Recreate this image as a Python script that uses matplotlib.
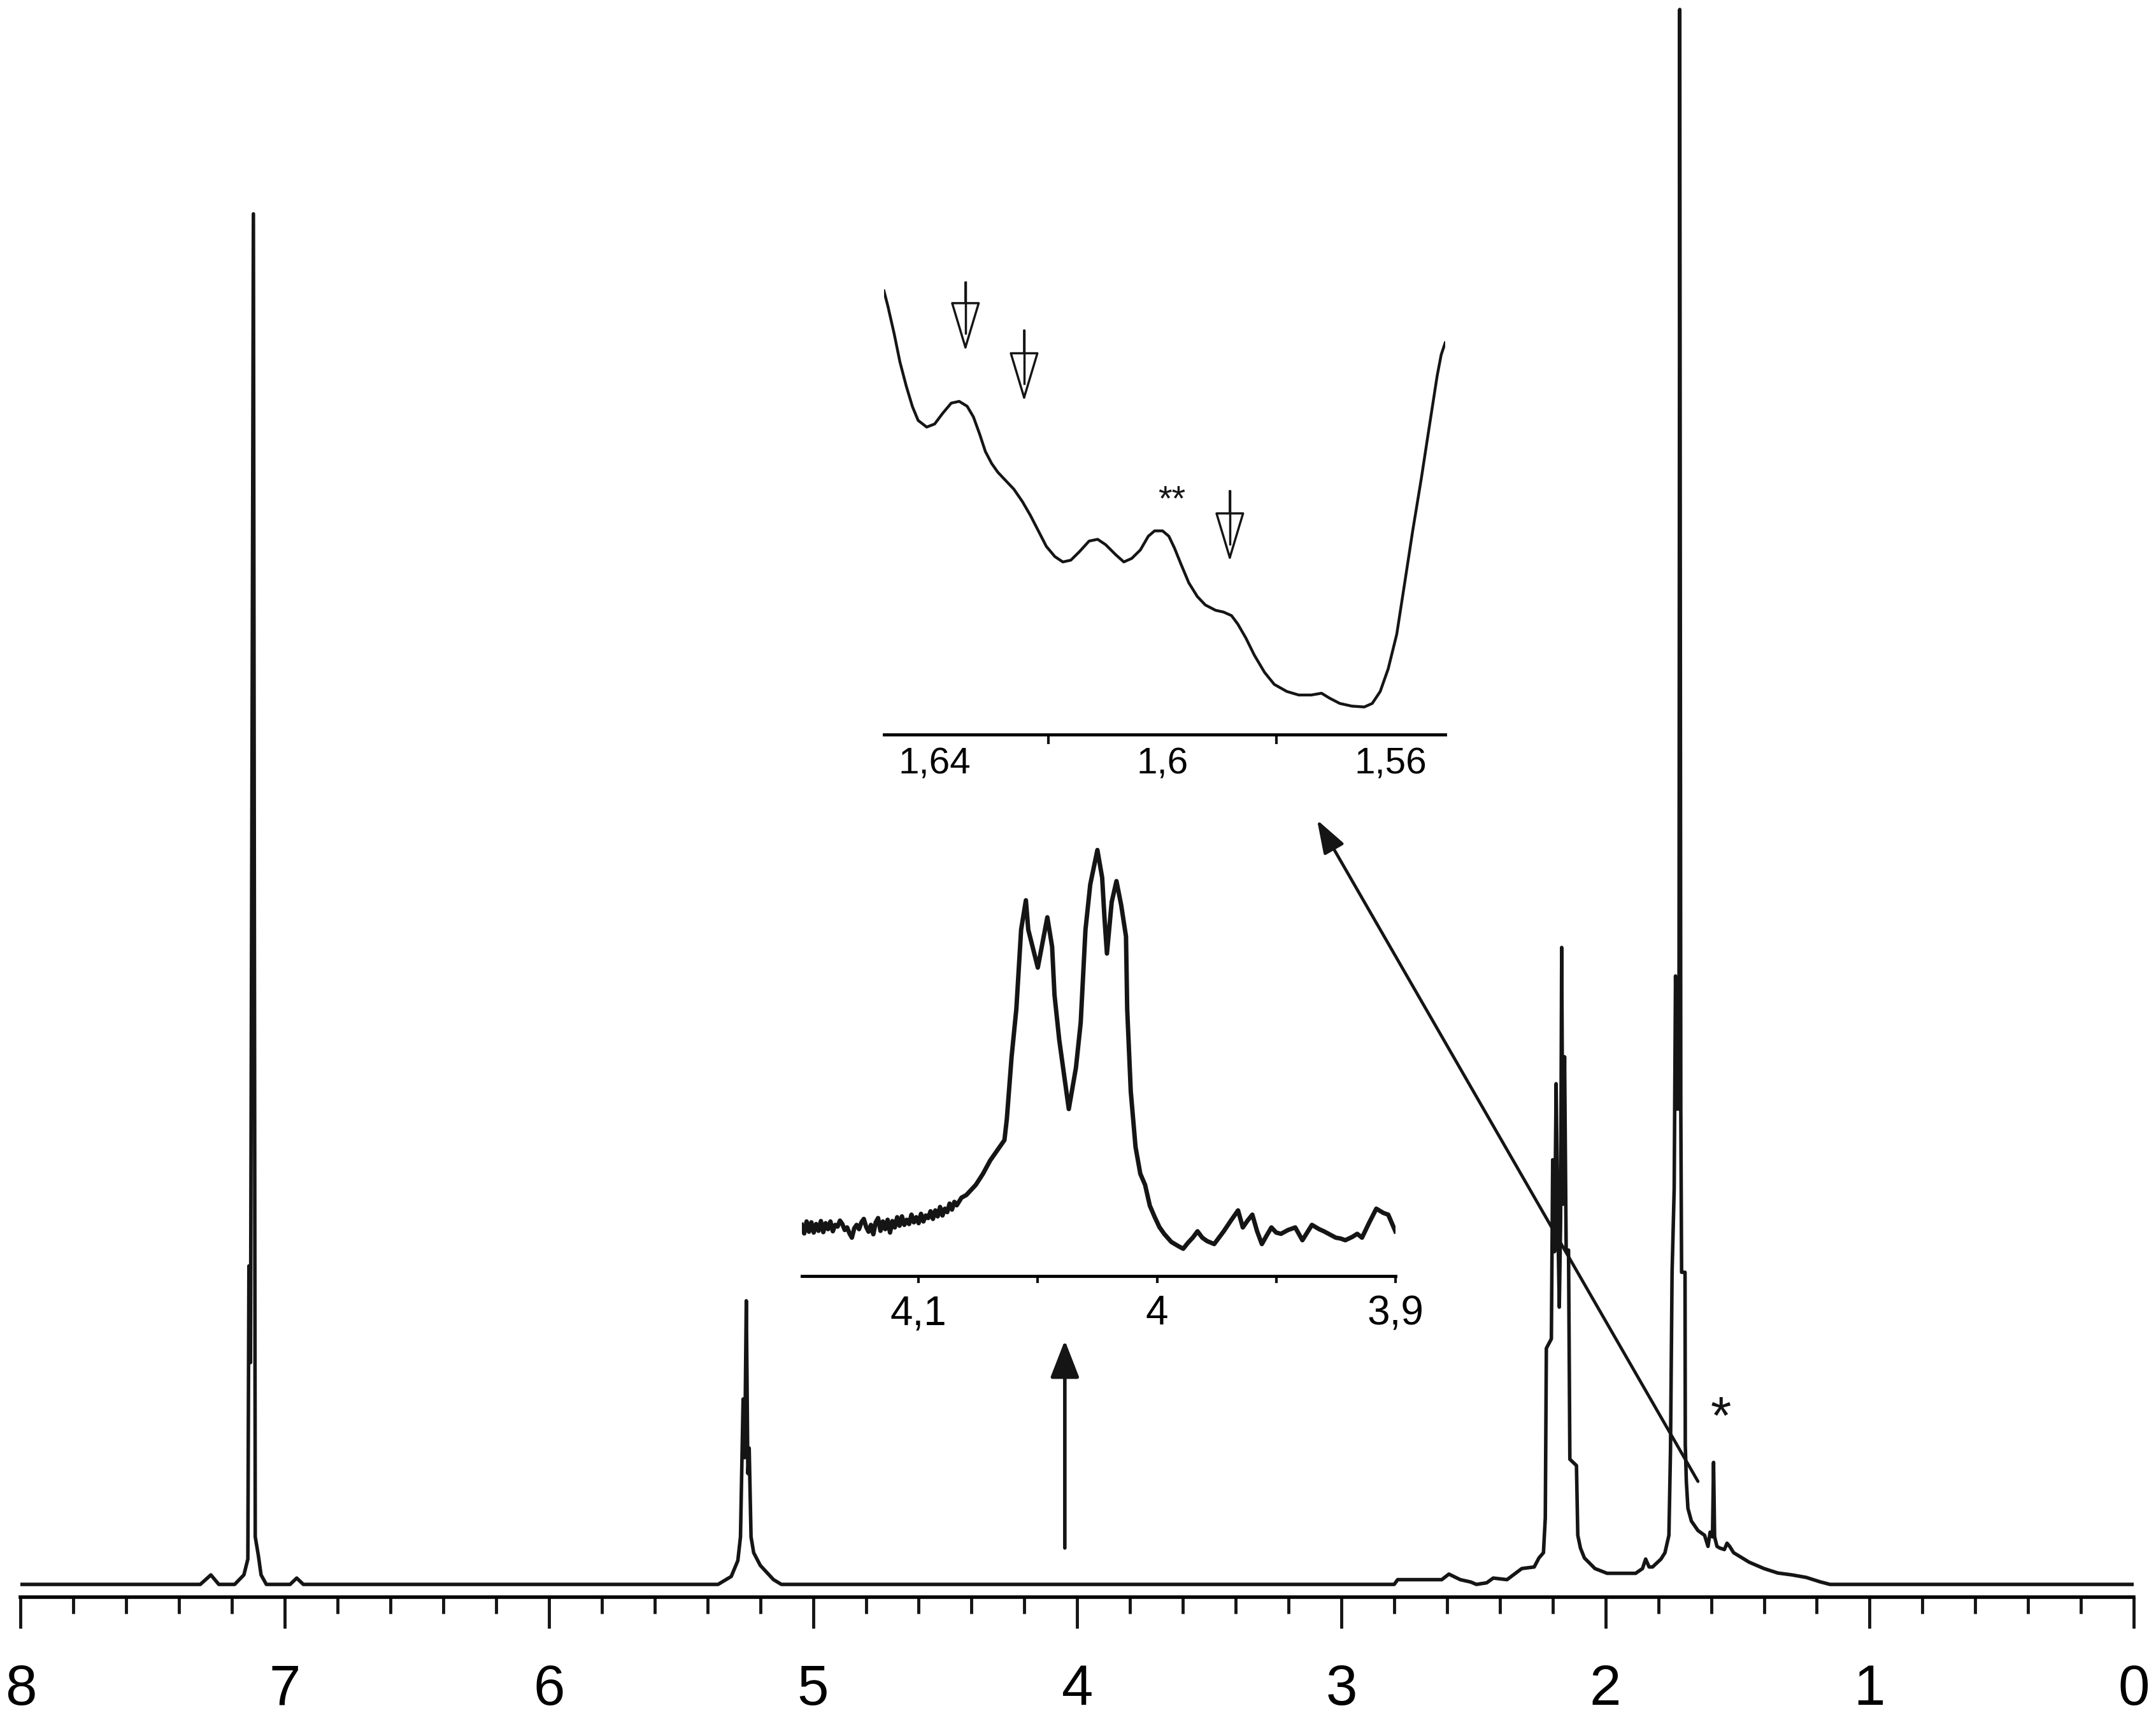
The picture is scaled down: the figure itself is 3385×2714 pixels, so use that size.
import numpy as np
import matplotlib.pyplot as plt

plt.rcParams['font.family'] = ['Liberation Sans', 'DejaVu Sans']

# main 1H spectrum, (ppm, intensity), 100 = top of plot
aromatic = [(8.0, 0), (7.32, 0), (7.28, 0.6), (7.25, 0), (7.19, 0), (7.155, 0.6),
            (7.14, 1.6), (7.136, 20.1), (7.13, 14.0), (7.119, 86.5), (7.112, 3.0),
            (7.10, 1.8), (7.09, 0.6), (7.07, 0), (6.98, 0), (6.955, 0.4), (6.93, 0)]
olefinic = [(5.36, 0), (5.31, 0.5), (5.285, 1.5), (5.275, 3.0), (5.265, 11.7),
            (5.259, 8.0), (5.253, 17.9), (5.247, 7.0), (5.242, 8.6), (5.235, 3.0),
            (5.225, 2.0), (5.20, 1.2), (5.15, 0.3), (5.12, 0)]
allylic = [(2.80, 0), (2.787, 0.3), (2.62, 0.3), (2.593, 0.65), (2.55, 0.3),
           (2.51, 0.15), (2.489, 0), (2.45, 0.1), (2.425, 0.4), (2.373, 0.3),
           (2.317, 1.0), (2.270, 1.1), (2.252, 1.67), (2.235, 2.0), (2.228, 4.2),
           (2.224, 14.9), (2.205, 15.5), (2.200, 26.8), (2.193, 21.0), (2.187, 31.6),
           (2.180, 22.5), (2.175, 17.5), (2.170, 23.0), (2.166, 40.2), (2.161, 24.0),
           (2.155, 33.3), (2.149, 21.1), (2.140, 21.1), (2.135, 7.9), (2.110, 7.5),
           (2.105, 3.1), (2.095, 2.3), (2.080, 1.67), (2.040, 1.0), (1.994, 0.7),
           (1.886, 0.7), (1.860, 1.0), (1.848, 1.6), (1.835, 1.1), (1.822, 1.1),
           (1.790, 1.6), (1.775, 2.0), (1.760, 3.1)]
methyl = [(1.754, 8.5), (1.748, 19.7), (1.740, 25.0), (1.735, 38.4), (1.729, 30.0),
          (1.725, 38.0), (1.722, 30.0), (1.719, 99.4), (1.715, 30.0), (1.712, 19.7),
          (1.699, 19.7), (1.698, 8.8), (1.694, 6.5), (1.688, 4.8), (1.675, 4.0),
          (1.650, 3.4), (1.625, 3.1), (1.612, 2.4), (1.604, 3.3), (1.595, 3.0),
          (1.591, 7.7), (1.587, 3.0), (1.578, 2.4), (1.568, 2.3), (1.550, 2.2),
          (1.540, 2.6), (1.530, 2.4), (1.515, 2.0), (1.456, 1.4), (1.400, 1.0),
          (1.348, 0.72), (1.294, 0.6), (1.240, 0.44), (1.187, 0.16), (1.150, 0),
          (0.0, 0)]

# expansion 4.15-3.90 ppm (lower inset)
lo_left = [(4.149, 12.0), (4.148, 10.0), (4.147, 12.8), (4.146, 10.4), (4.145, 12.6),
           (4.144, 10.2), (4.143, 12.2), (4.142, 10.6), (4.141, 12.9), (4.140, 10.3),
           (4.139, 12.4), (4.138, 11.0), (4.137, 12.8), (4.136, 10.5), (4.135, 12.0),
           (4.134, 11.6), (4.133, 13.0), (4.132, 12.2), (4.131, 10.8), (4.130, 11.4),
           (4.129, 10.0), (4.128, 9.0), (4.127, 11.2), (4.126, 12.0), (4.125, 11.0),
           (4.124, 12.6), (4.123, 13.4), (4.122, 11.5), (4.121, 10.4), (4.120, 12.0),
           (4.119, 9.8), (4.118, 12.6), (4.117, 13.6), (4.116, 10.6), (4.115, 12.8),
           (4.114, 11.0), (4.113, 13.2), (4.112, 10.2), (4.111, 12.9), (4.110, 11.4),
           (4.109, 13.8), (4.108, 11.8), (4.107, 14.0), (4.106, 12.0), (4.105, 13.2),
           (4.104, 12.2), (4.103, 14.4), (4.102, 12.6), (4.101, 13.8), (4.100, 12.4),
           (4.099, 14.6), (4.098, 12.8), (4.097, 14.2), (4.096, 13.6), (4.095, 15.2),
           (4.094, 13.4), (4.093, 15.4), (4.092, 14.0), (4.091, 16.2), (4.090, 14.2),
           (4.089, 15.8), (4.088, 15.0), (4.087, 17.0), (4.086, 15.6), (4.085, 17.4),
           (4.084, 16.6), (4.082, 18.4), (4.080, 19.0), (4.078, 20.2), (4.076, 21.4),
           (4.073, 24.0), (4.070, 27.1)]
lo_peak = [(4.064, 31.9), (4.063, 36.8), (4.061, 51.4), (4.059, 62.7), (4.057, 81.3),
           (4.055, 88.2), (4.054, 81.3), (4.050, 72.4), (4.047, 81.3), (4.046, 84.2),
           (4.044, 77.3), (4.043, 66.0), (4.041, 55.4), (4.038, 43.3), (4.037, 39.2),
           (4.034, 48.9), (4.032, 59.5), (4.030, 81.3), (4.028, 91.9), (4.025, 100.0),
           (4.023, 93.5), (4.022, 83.8), (4.021, 75.7), (4.019, 87.8), (4.017, 92.7),
           (4.015, 87.0), (4.013, 79.7), (4.0125, 62.7), (4.011, 43.3), (4.009, 30.3),
           (4.007, 24.0)]
lo_right = [(4.005, 21.4), (4.003, 16.5), (4.001, 13.9), (3.999, 11.5), (3.997, 9.9),
            (3.994, 8.0), (3.991, 7.0), (3.989, 6.4), (3.987, 7.8), (3.985, 9.0),
            (3.983, 10.5), (3.981, 9.0), (3.979, 8.2), (3.976, 7.5), (3.974, 9.0),
            (3.972, 10.5), (3.969, 13.0), (3.966, 15.4), (3.964, 11.4), (3.962, 13.0),
            (3.960, 14.4), (3.958, 10.5), (3.956, 7.5), (3.954, 9.5), (3.952, 11.4),
            (3.950, 10.2), (3.948, 9.9), (3.945, 10.8), (3.942, 11.4), (3.939, 8.4),
            (3.937, 10.2), (3.935, 12.0), (3.932, 11.0), (3.930, 10.5), (3.927, 9.6),
            (3.925, 9.0), (3.923, 8.8), (3.921, 8.4), (3.918, 9.2), (3.916, 9.9),
            (3.914, 9.0), (3.911, 12.5), (3.908, 15.8), (3.905, 14.8), (3.903, 14.4),
            (3.900, 10.5)]

# expansion 1.65-1.55 ppm (upper inset)
ins_hi = [(1.6489, 100.0), (1.6482, 96.5), (1.6471, 90.3), (1.6461, 84.0), (1.6450, 78.6),
          (1.6439, 73.9), (1.6429, 70.8), (1.6414, 69.3), (1.6400, 70.0), (1.6386, 72.4),
          (1.6371, 74.7), (1.6357, 75.1), (1.6343, 74.0), (1.6332, 71.6), (1.6321, 67.7),
          (1.6311, 63.8), (1.6300, 61.1), (1.6289, 59.1), (1.6275, 57.2), (1.6261, 55.3),
          (1.6246, 52.5), (1.6232, 49.4), (1.6218, 45.9), (1.6204, 42.4), (1.6189, 40.1),
          (1.6175, 38.9), (1.6161, 39.3), (1.6146, 41.2), (1.6129, 43.6), (1.6114, 44.0),
          (1.6100, 42.8), (1.6082, 40.5), (1.6068, 38.9), (1.6054, 39.7), (1.6039, 41.6),
          (1.6025, 44.7), (1.6014, 45.9), (1.6000, 45.9), (1.5989, 44.7), (1.5979, 42.0),
          (1.5968, 38.5), (1.5954, 34.2), (1.5939, 31.1), (1.5925, 29.2), (1.5907, 28.0),
          (1.5893, 27.6), (1.5879, 26.8), (1.5868, 24.9), (1.5854, 21.8), (1.5839, 17.9),
          (1.5821, 14.0), (1.5804, 11.3), (1.5782, 9.7), (1.5761, 8.9), (1.5739, 8.9),
          (1.5721, 9.3), (1.5707, 8.2), (1.5689, 7.0), (1.5668, 6.4), (1.5646, 6.2),
          (1.5632, 7.0), (1.5618, 9.7), (1.5604, 14.8), (1.5589, 22.6), (1.5575, 34.2),
          (1.5561, 45.9), (1.5546, 57.6), (1.5532, 69.3), (1.5518, 80.9), (1.5511, 85.6),
          (1.5504, 88.3)]

# hollow marker arrows in the upper inset: (ppm, top, tip)
hi_arrows = [(1.6346, 101.9, 86.4), (1.6243, 91.1, 75.1), (1.5882, 54.9, 39.0)]

lo_ticks = [4.1, 4.0, 3.9]
lo_labels = ['4,1', '4', '3,9']
hi_ticks = [1.64, 1.6, 1.56]
hi_labels = ['1,64', '1,6', '1,56']

LC = '#151515'

fig = plt.figure(figsize=(33.85, 27.14), dpi=100)

# ---- main spectrum
ax = fig.add_axes([0.0096, 0.0763, 0.9801, 0.9237])
spec = np.array(aromatic + olefinic + allylic + methyl)
ax.plot(spec[:, 0], spec[:, 1], color=LC, lw=4)
ax.set_xlim(8, 0)
ax.set_ylim(-0.8, 100)
for s in ['left', 'right', 'top']:
    ax.spines[s].set_visible(False)
ax.spines['bottom'].set_linewidth(4)
ax.set_yticks([])
ax.set_xticks(np.arange(0, 9, 1))
ax.set_xticks(np.arange(0, 8.01, 0.2), minor=True)
ax.set_xticklabels([str(i) for i in range(9)])
ax.tick_params(axis='x', which='major', length=35, width=3.5, pad=40,
               labelsize=64, color=LC)
ax.tick_params(axis='x', which='minor', length=19, width=3.5, color=LC)

ax.annotate('', xy=(4.047, 15.4), xytext=(4.047, 2.3),
            arrowprops=dict(arrowstyle='-|>,head_length=3.6,head_width=1.4',
                            mutation_scale=10, color=LC, lw=4,
                            shrinkA=0, shrinkB=0))
ax.annotate('', xy=(3.092, 48.25), xytext=(1.650, 6.5),
            arrowprops=dict(arrowstyle='-|>,head_length=3.2,head_width=1.1',
                            mutation_scale=10, color=LC, lw=3.5,
                            shrinkA=0, shrinkB=0))
ax.text(1.563, 9.5, '*', fontsize=60, ha='center', va='baseline', color=LC)

# ---- lower inset
ax_lo = fig.add_axes([0.3719, 0.2620, 0.2753, 0.2587], facecolor='none')
lo = np.array(lo_left + lo_peak + lo_right)
ax_lo.plot(lo[:, 0], lo[:, 1], color=LC, lw=5, solid_joinstyle='round')
ax_lo.set_xlim(4.149, 3.9)
ax_lo.set_ylim(0, 105)
for s in ['left', 'right', 'top']:
    ax_lo.spines[s].set_visible(False)
ax_lo.spines['bottom'].set_linewidth(3.5)
ax_lo.set_yticks([])
ax_lo.set_xticks(lo_ticks)
ax_lo.set_xticklabels(lo_labels)
ax_lo.set_xticks([4.05, 3.95], minor=True)
ax_lo.tick_params(axis='x', which='both', length=8, width=3, color=LC)
ax_lo.tick_params(axis='x', which='major', labelsize=46, pad=13)

# ---- upper inset
ax_hi = fig.add_axes([0.4100, 0.5752, 0.2603, 0.2822], facecolor='none')
hi = np.array(ins_hi)
ax_hi.plot(hi[:, 0], hi[:, 1], color=LC, lw=3.2)
ax_hi.set_xlim(1.6489, 1.5504)
ax_hi.set_ylim(0, 110)
for s in ['left', 'right', 'top']:
    ax_hi.spines[s].set_visible(False)
ax_hi.spines['bottom'].set_linewidth(3.5)
ax_hi.set_yticks([])
ax_hi.set_xticks(hi_ticks)
ax_hi.set_xticklabels(hi_labels)
ax_hi.set_xticks([1.62, 1.58], minor=True)
ax_hi.tick_params(axis='x', which='major', length=0, labelsize=42, pad=14)
ax_hi.tick_params(axis='x', which='minor', length=11, width=3, color=LC)

for x, top, tip in hi_arrows:
    ax_hi.annotate('', xy=(x, tip), xytext=(x, top),
                   arrowprops=dict(arrowstyle='-|>,head_length=5,head_width=1.5',
                                   mutation_scale=10, fc='white', ec=LC, lw=2.5,
                                   shrinkA=0, shrinkB=0))
    ax_hi.plot([x, x], [top, tip + 4], color=LC, lw=2.5, zorder=5)
ax_hi.text(1.5984, 50.6, '**', fontsize=40, ha='center', va='baseline', color=LC)

fig.savefig('out.png', dpi=100)
